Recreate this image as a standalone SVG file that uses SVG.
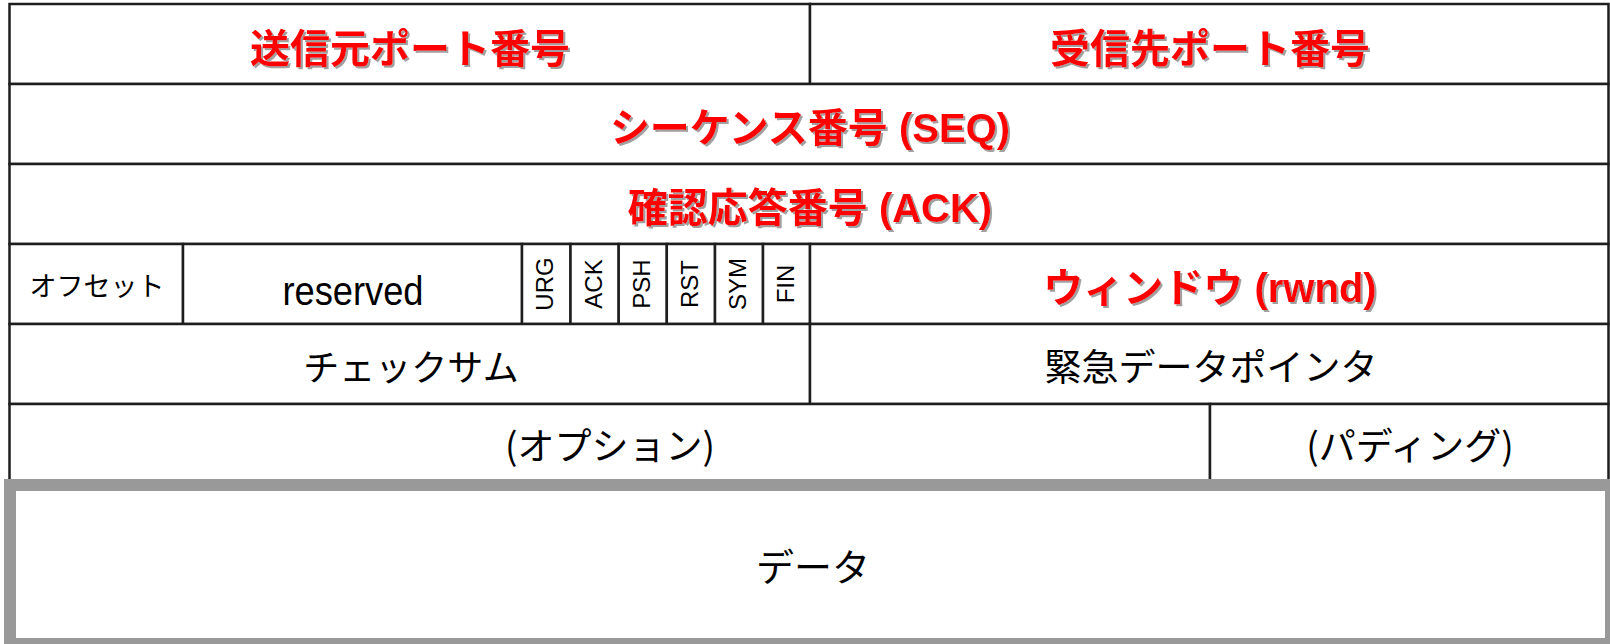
<svg xmlns="http://www.w3.org/2000/svg" width="1610" height="644" viewBox="0 0 1610 644">
<defs>
<style>
.cell{fill:#fff;stroke:#1e1e1e;stroke-width:2.5}
.red{font-family:"Liberation Sans","Noto Sans CJK JP",sans-serif;font-weight:bold;font-size:40px;fill:#ff0000;text-anchor:middle;filter:url(#sh)}
.blk{font-family:"Noto Sans CJK JP","Liberation Sans",sans-serif;font-size:36px;fill:#000;text-anchor:middle}
.flag{font-family:"Liberation Sans",Arial,sans-serif;font-size:24px;fill:#000;text-anchor:middle}
</style>
<filter id="sh" x="-5%" y="-20%" width="110%" height="140%">
<feDropShadow dx="2" dy="2" stdDeviation="0.6" flood-color="#a0a0a0" flood-opacity="1"/>
</filter>
</defs>
<rect width="1610" height="644" fill="#fff"/>
<g id="src-port"><rect class="cell" x="9.5" y="4" width="800.5" height="80"/><text class="red" x="410" y="63">送信元ポート番号</text></g>
<g id="dst-port"><rect class="cell" x="810" y="4" width="798.5" height="80"/><text class="red" x="1210" y="63">受信先ポート番号</text></g>
<g id="seq"><rect class="cell" x="9.5" y="84" width="1599" height="80"/><text class="red" x="810" y="142">シーケンス番号 (SEQ)</text></g>
<g id="ack"><rect class="cell" x="9.5" y="164" width="1599" height="80"/><text class="red" x="810" y="222">確認応答番号 (ACK)</text></g>
<g id="offset"><rect class="cell" x="9.5" y="244" width="173.5" height="80"/><text class="blk" style="font-size:27px" x="97" y="296">オフセット</text></g>
<g id="reserved"><rect class="cell" x="183" y="244" width="339" height="80"/><text class="blk" style="font-family:'Liberation Sans',Arial,sans-serif;font-size:40px" x="353" y="305" textLength="141" lengthAdjust="spacingAndGlyphs">reserved</text></g>
<g id="flag-urg"><rect class="cell" x="522" y="244" width="48.5" height="80"/><text class="flag" x="546.3" y="291" transform="rotate(-90 546.3 284)">URG</text></g>
<g id="flag-ack"><rect class="cell" x="570.5" y="244" width="48.2" height="80"/><text class="flag" x="594.6" y="291" transform="rotate(-90 594.6 284)">ACK</text></g>
<g id="flag-psh"><rect class="cell" x="618.7" y="244" width="48.1" height="80"/><text class="flag" x="642.8" y="291" transform="rotate(-90 642.8 284)">PSH</text></g>
<g id="flag-rst"><rect class="cell" x="666.8" y="244" width="48.2" height="80"/><text class="flag" x="690.9" y="291" transform="rotate(-90 690.9 284)">RST</text></g>
<g id="flag-sym"><rect class="cell" x="715" y="244" width="48" height="80"/><text class="flag" x="739" y="291" transform="rotate(-90 739 284)">SYM</text></g>
<g id="flag-fin"><rect class="cell" x="763" y="244" width="47" height="80"/><text class="flag" x="786.5" y="291" transform="rotate(-90 786.5 284)">FIN</text></g>
<g id="window"><rect class="cell" x="810" y="244" width="798.5" height="80"/><text class="red" x="1210" y="302">ウィンドウ (rwnd)</text></g>
<g id="checksum"><rect class="cell" x="9.5" y="324" width="800.5" height="80"/><text class="blk" x="411" y="381">チェックサム</text></g>
<g id="urgent"><rect class="cell" x="810" y="324" width="798.5" height="80"/><text class="blk" style="font-size:37px" x="1211" y="381">緊急データポインタ</text></g>
<g id="options"><rect class="cell" x="9.5" y="404" width="1200.5" height="85"/><text class="blk" style="font-size:37px" x="610" y="460">(オプション)</text></g>
<g id="padding"><rect class="cell" x="1210" y="404" width="398.5" height="85"/><text class="blk" style="font-size:37px" x="1410" y="460">(パディング)</text></g>
<g id="data"><rect x="10" y="485" width="1601" height="159" fill="#fff" stroke="#999999" stroke-width="12"/><text class="blk" style="font-size:38px" x="813" y="581">データ</text></g>
<g id="connectors"></g>
</svg>
